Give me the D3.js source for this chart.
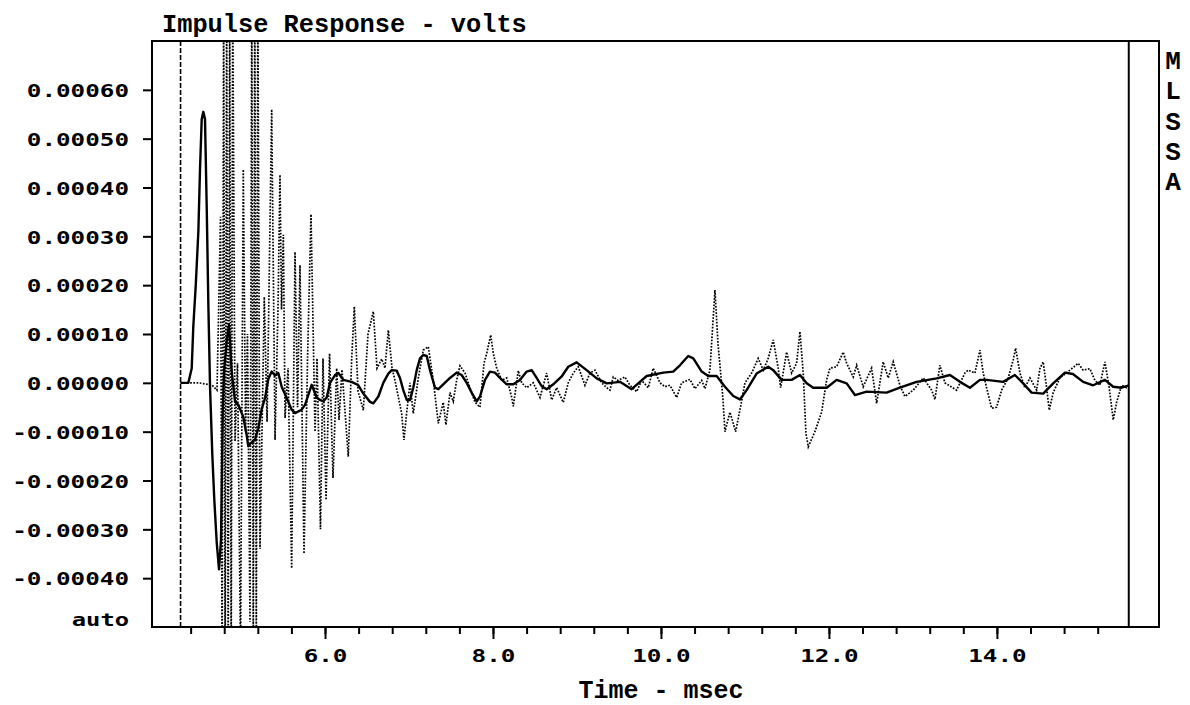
<!DOCTYPE html>
<html>
<head>
<meta charset="utf-8">
<script src="https://cdn.jsdelivr.net/npm/d3@7"></script>
<style>
  body { margin: 0; background: #fff; }
  svg { display: block; }
  .small { font-family: "DejaVu Sans Mono", monospace; font-weight: bold; font-size: 17px; fill: #000; }
  .big { font-family: "Liberation Mono", monospace; font-weight: bold; font-size: 26px; fill: #000; }
</style>
</head>
<body>
<svg id="chart" width="1190" height="705"></svg>
<script>
// time in msec, amplitude in units of 1e-4 volts

// filtered response (solid trace)
const filtered = [
  [4.28, 0], [4.373, 0], [4.413, 0.3], [4.432, 1.16], [4.461, 2.0], [4.492, 3.1], [4.512, 4.4],
  [4.532, 5.4], [4.551, 5.55], [4.571, 5.4], [4.592, 3.55], [4.611, 1.6], [4.631, -0.08],
  [4.658, -1.47], [4.682, -2.4], [4.711, -3.28], [4.738, -3.82], [4.762, -3.2], [4.782, -0.62],
  [4.798, 0.23], [4.830, 0.86], [4.857, 1.19], [4.889, 0.23], [4.929, -0.39], [4.968, -0.45],
  [5.027, -0.70], [5.068, -1.08], [5.087, -1.3], [5.107, -1.25], [5.167, -1.16], [5.206, -0.93],
  [5.246, -0.54], [5.286, -0.31], [5.325, 0.08], [5.365, 0.23], [5.405, 0.15], [5.444, 0.2],
  [5.484, -0.08], [5.544, -0.31], [5.603, -0.55], [5.643, -0.62], [5.722, -0.55], [5.762, -0.45],
  [5.841, -0.04], [5.901, -0.3], [5.940, -0.35], [5.980, -0.38], [6.020, -0.3], [6.060, 0],
  [6.119, 0.16], [6.159, 0.2], [6.218, 0.06], [6.317, 0.02], [6.397, -0.05], [6.456, -0.22],
  [6.536, -0.39], [6.575, -0.42], [6.635, -0.28], [6.694, 0], [6.754, 0.19], [6.794, 0.26],
  [6.853, 0.25], [6.893, 0.1], [6.932, -0.15], [6.973, -0.35], [7.012, -0.35], [7.051, -0.1],
  [7.092, 0.26], [7.131, 0.5], [7.170, 0.57], [7.211, 0.55], [7.250, 0.26], [7.310, -0.1],
  [7.349, -0.13], [7.408, -0.03], [7.488, 0.1], [7.568, 0.21], [7.627, 0.16], [7.687, 0],
  [7.746, -0.2], [7.806, -0.38], [7.845, -0.28], [7.905, 0.06], [7.964, 0.23], [8.024, 0.21],
  [8.083, 0.1], [8.163, -0.03], [8.242, -0.03], [8.321, 0.06], [8.401, 0.23], [8.461, 0.26],
  [8.520, 0.1], [8.580, -0.07], [8.639, -0.13], [8.718, -0.03], [8.818, 0.13], [8.896, 0.33],
  [8.996, 0.42], [9.115, 0.26], [9.235, 0.09], [9.354, -0.01], [9.512, 0.02], [9.651, -0.13],
  [9.750, 0.02], [9.830, 0.14], [10.027, 0.21], [10.146, 0.23], [10.226, 0.36], [10.325, 0.55],
  [10.385, 0.5], [10.485, 0.23], [10.563, 0.14], [10.663, 0.14], [10.762, -0.08], [10.861, -0.27],
  [10.940, -0.34], [11.020, -0.15], [11.139, 0.19], [11.277, 0.33], [11.337, 0.26], [11.437, 0.06],
  [11.556, 0.06], [11.655, 0.16], [11.735, -0.01], [11.813, -0.1], [11.973, -0.1], [12.092, 0.06],
  [12.211, -0.01], [12.310, -0.25], [12.449, -0.18], [12.687, -0.2], [12.845, -0.1], [13.044, 0.02],
  [13.282, 0.09], [13.440, 0.16], [13.560, 0.02], [13.679, -0.1], [13.798, 0.06], [13.877, 0.06],
  [14.075, 0.02], [14.214, 0.16], [14.313, -0.01], [14.413, -0.2], [14.551, -0.22], [14.670, -0.01],
  [14.810, 0.21], [14.905, 0.18], [15.027, 0.02], [15.146, -0.05], [15.286, 0.06], [15.385, -0.08],
  [15.485, -0.1], [15.571, -0.05]
];

// raw response (dotted trace), overshoots the plot near the start
const raw = [
  [4.28, 0], [4.500, 0], [4.655, -0.05], [4.714, -0.15], [4.756, 3.4],
  [4.775, -6], [4.793, 8], [4.811, -6], [4.829, 8], [4.847, -6], [4.865, 8], [4.883, -6], [4.901, 8],
  [4.929, -1.2], [4.958, 0.4], [4.994, -5.5], [5.027, 4.37], [5.054, -1.0], [5.077, 1.0], [5.107, -4.9],
  [5.128, 8], [5.146, -5.5], [5.164, 8], [5.182, -5.5], [5.200, 8],
  [5.226, -3.4], [5.277, 1.76],
  [5.310, -0.8], [5.365, 5.6], [5.405, -1.17], [5.440, 1.5], [5.464, 4.26], [5.482, 1.5], [5.504, 3.03],
  [5.524, -0.72], [5.560, 0.3], [5.603, -3.8], [5.643, 2.68], [5.673, -0.5], [5.702, 2.41],
  [5.750, -3.5], [5.792, 0.5], [5.833, 3.45], [5.881, -1.0], [5.905, 0.5], [5.946, -3.0],
  [5.976, 0.5], [6.012, -2.4], [6.054, 0.6], [6.095, -1.95], [6.139, 0.3], [6.167, -0.76],
  [6.202, 0.27], [6.277, -1.51], [6.317, 0.47], [6.349, 1.56], [6.393, -0.17], [6.456, -0.56],
  [6.512, 1.0], [6.575, 1.46], [6.619, 0.3], [6.675, 0.49], [6.714, 0.3], [6.754, 1.08],
  [6.798, 0.3], [6.833, 0.05], [6.913, -0.63], [6.940, -1.17], [6.973, -0.6], [7.012, 0.0],
  [7.051, -0.63], [7.111, 0.1], [7.170, 0.67], [7.230, 0.74], [7.289, 0.05], [7.349, -0.83],
  [7.408, -0.4], [7.440, -0.86], [7.488, -0.2], [7.527, -0.38], [7.568, 0.06], [7.607, 0.35],
  [7.667, 0.2], [7.706, 0], [7.746, -0.2], [7.786, -0.4], [7.845, -0.5], [7.893, 0.4], [7.925, 0.6],
  [7.973, 0.98], [8.004, 0.6], [8.044, 0.3], [8.104, 0.05], [8.163, 0.1], [8.223, -0.3],
  [8.242, -0.48], [8.301, 0.25], [8.342, 0], [8.401, -0.1], [8.480, 0.0], [8.560, -0.3],
  [8.639, 0.2], [8.699, -0.35], [8.758, -0.1], [8.837, -0.4], [8.896, 0.0], [8.956, 0.2],
  [9.015, 0.33], [9.095, -0.05], [9.155, 0.2], [9.214, 0.26], [9.294, 0.0], [9.354, -0.1],
  [9.393, -0.15], [9.432, 0.12], [9.488, 0.05], [9.571, 0.12], [9.631, -0.05], [9.711, -0.18],
  [9.770, 0.05], [9.849, -0.1], [9.908, 0.3], [9.988, 0.0], [10.048, -0.08], [10.107, -0.05],
  [10.187, -0.3], [10.246, 0.0], [10.345, 0.07], [10.405, -0.12], [10.485, 0.05], [10.524, -0.12],
  [10.583, 0.26], [10.643, 1.9], [10.679, 0.8], [10.735, -0.26], [10.762, -1.0], [10.821, -0.6],
  [10.889, -1.0], [10.960, -0.38], [11.000, 0.0], [11.080, 0.2], [11.158, 0.5], [11.218, 0.26],
  [11.277, 0.5], [11.337, 0.88], [11.396, 0.3], [11.425, -0.1], [11.496, 0.63], [11.556, 0.2],
  [11.615, 0.4], [11.655, 1.05], [11.694, 0.2], [11.726, -1.03], [11.754, -1.31], [11.833, -1.0],
  [11.913, -0.6], [11.973, 0.06], [12.012, 0.3], [12.092, 0.33], [12.170, 0.63], [12.211, 0.4],
  [12.289, 0.12], [12.330, 0.36], [12.408, -0.08], [12.508, 0.3], [12.568, -0.42], [12.646, 0.43],
  [12.706, 0.1], [12.765, 0.43], [12.845, -0.05], [12.905, -0.28], [13.004, -0.15], [13.123, 0.1],
  [13.223, -0.15], [13.262, -0.34], [13.321, 0.36], [13.381, 0.0], [13.520, -0.15], [13.619, 0.2],
  [13.658, 0.26], [13.738, 0.2], [13.798, 0.67], [13.837, 0.2], [13.877, -0.1], [13.937, -0.52],
  [13.996, -0.5], [14.056, -0.15], [14.135, 0.1], [14.194, 0.47], [14.223, 0.71], [14.274, 0.2],
  [14.333, -0.1], [14.393, 0.1], [14.473, -0.15], [14.512, 0.29], [14.551, 0.43], [14.592, -0.1],
  [14.623, -0.56], [14.670, -0.2], [14.750, 0.1], [14.869, 0.26], [14.968, 0.4], [15.027, 0.26],
  [15.107, 0.29], [15.167, 0.05], [15.226, -0.05], [15.286, 0.43], [15.337, -0.1], [15.385, -0.76],
  [15.425, -0.4], [15.485, -0.05], [15.544, -0.1], [15.571, -0.05]
];

const yTickValues = [-4, -3, -2, -1, 0, 1, 2, 3, 4, 5, 6];
const xLabelValues = [6, 8, 10, 12, 14];
const xMinorValues = d3.range(11, 39).map(i => +(i * 0.4).toFixed(1));
const markerTime = 4.28;     // dashed start marker
const windowEnd = 15.57;     // end of time window
const titleText = "Impulse Response - volts";
const xTitleText = "Time - msec";
const sideLetters = ["M", "L", "S", "S", "A"];

const svg = d3.select("#chart");
const plotL = 152, plotR = 1159, plotT = 41, plotB = 627;

const x = d3.scaleLinear().domain([3.94, 15.93]).range([plotL, plotR]);
const y = d3.scaleLinear().domain([-5, 7]).range([plotB, plotT]);

svg.append("defs").append("clipPath").attr("id", "plot")
  .append("rect").attr("x", plotL).attr("y", plotT)
  .attr("width", plotR - plotL).attr("height", plotB - plotT);

// stretch glyphs so each character takes the same width as the original
let fit = (sel, w) => sel.each(function () {
  let t = d3.select(this);
  t.attr("textLength", t.text().length * w).attr("lengthAdjust", "spacingAndGlyphs");
});

// y axis
let yAxis = svg.append("g")
  .attr("transform", `translate(${plotL},0)`)
  .call(d3.axisLeft(y).tickValues(yTickValues).tickSize(9).tickPadding(14)
    .tickFormat(d => (d * 1e-4).toFixed(5)));
yAxis.select(".domain").remove();
yAxis.attr("font-family", null).attr("font-size", null);
yAxis.selectAll("line").attr("stroke", "#000").attr("stroke-width", 2);
yAxis.selectAll("text").attr("class", "small").attr("dy", "0.4em")
  .call(fit, 14.6);

// x axis, minor then major ticks
let xMinor = svg.append("g")
  .attr("transform", `translate(0,${plotB})`)
  .call(d3.axisBottom(x).tickValues(xMinorValues).tickSize(7).tickFormat(""));
xMinor.select(".domain").remove();
xMinor.selectAll("line").attr("stroke", "#000").attr("stroke-width", 2);

let xMajor = svg.append("g")
  .attr("transform", `translate(0,${plotB})`)
  .call(d3.axisBottom(x).tickValues(xLabelValues).tickSize(12).tickFormat(d => d.toFixed(1)));
xMajor.select(".domain").remove();
xMajor.attr("font-family", null).attr("font-size", null);
xMajor.selectAll("line").attr("stroke", "#000").attr("stroke-width", 2);
xMajor.selectAll("text").attr("class", "small").attr("y", 35).attr("dy", 0)
  .call(fit, 14.6);

// traces
let line = d3.line().x(d => x(d[0])).y(d => y(d[1]));
let traces = svg.append("g").attr("clip-path", "url(#plot)");

traces.append("path")
  .datum(raw)
  .attr("d", line)
  .attr("fill", "none")
  .attr("stroke", "#000")
  .attr("stroke-width", 1.7)
  .attr("stroke-dasharray", "1.7 1.5");

traces.append("path")
  .datum(filtered)
  .attr("d", line)
  .attr("fill", "none")
  .attr("stroke", "#000")
  .attr("stroke-width", 2.4)
  .attr("stroke-linejoin", "round");

// start marker and window end
svg.append("line")
  .attr("x1", x(markerTime)).attr("x2", x(markerTime))
  .attr("y1", plotT).attr("y2", plotB)
  .attr("stroke", "#000").attr("stroke-width", 1.6)
  .attr("stroke-dasharray", "5 2");

svg.append("line")
  .attr("x1", x(windowEnd)).attr("x2", x(windowEnd))
  .attr("y1", plotT).attr("y2", plotB)
  .attr("stroke", "#000").attr("stroke-width", 2);

// frame
svg.append("rect")
  .attr("x", plotL).attr("y", plotT)
  .attr("width", plotR - plotL).attr("height", plotB - plotT)
  .attr("fill", "none").attr("stroke", "#000").attr("stroke-width", 2);

// labels
svg.append("text").attr("class", "small")
  .attr("x", 129).attr("y", 626).attr("text-anchor", "end")
  .text("auto").call(fit, 14.3);

svg.append("text").attr("class", "big")
  .attr("x", 162).attr("y", 32)
  .text(titleText).call(fit, 15.2);

svg.append("text").attr("class", "big")
  .attr("x", x(10)).attr("y", 698).attr("text-anchor", "middle")
  .text(xTitleText).call(fit, 15);

svg.selectAll(".side")
  .data(sideLetters)
  .enter()
  .append("text")
  .attr("class", "big side")
  .attr("x", 1173)
  .attr("y", (d, i) => 69 + i * 30.3)
  .attr("text-anchor", "middle")
  .text(d => d);
</script>
</body>
</html>
